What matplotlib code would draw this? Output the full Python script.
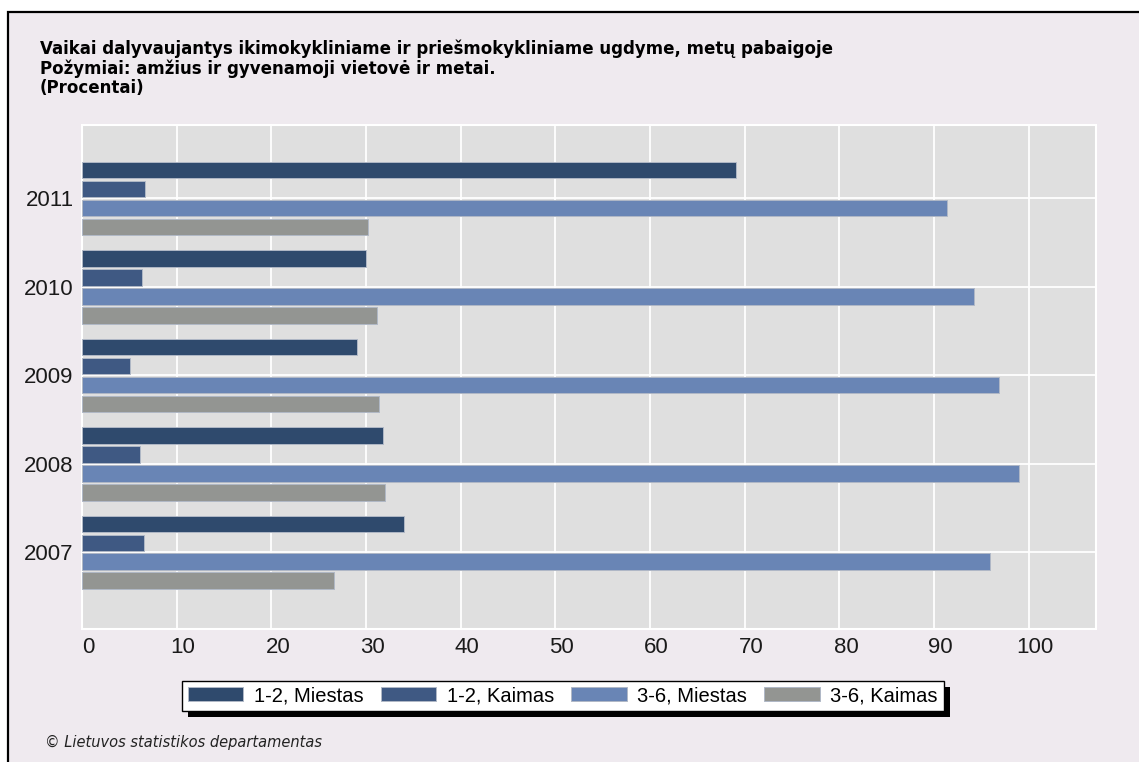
import numpy as np
import matplotlib
matplotlib.use("Agg")
import matplotlib.pyplot as plt
from matplotlib.patches import Rectangle
from matplotlib.transforms import ScaledTranslation

years = ['2007', '2008', '2009', '2010', '2011']
miestas_12 = [34.0, 31.8, 29.0, 30.0, 69.1]
kaimas_12 = [6.5, 6.1, 5.1, 6.3, 6.7]
miestas_36 = [95.9, 99.0, 96.9, 94.2, 91.4]
kaimas_36 = [26.6, 32.0, 31.4, 31.2, 30.2]
series_names = ['1-2, Miestas', '1-2, Kaimas', '3-6, Miestas', '3-6, Kaimas']
colors = ['#2f4a6d', '#3f5983', '#6985b5', '#939592']
xticks = [0, 10, 20, 30, 40, 50, 60, 70, 80, 90, 100]

W, H = 1139, 762
fig = plt.figure(figsize=(W / 100, H / 100), dpi=100)
fig.patch.set_facecolor('white')

# grey panel with black frame (cut at right/bottom)
frame = Rectangle((7.5 / W, -0.05), 1.1, 1 - 12 / H + 0.05, transform=fig.transFigure,
                  facecolor='#efeaef', edgecolor='black', lw=1.6, zorder=-10)
fig.add_artist(frame)

ax = fig.add_axes([82 / W, 1 - 629 / H, (1096 - 82) / W, (629 - 125) / H])
ax.set_facecolor('#dfdfdf')

y = np.arange(len(years))
step = 0.2147
h = 0.1876
all_series = [miestas_12, kaimas_12, miestas_36, kaimas_36]
handles = []
for i, vals in enumerate(all_series):
    b = ax.barh(y + (1.5 - i) * step, vals, height=h, color=colors[i],
                edgecolor='#b0b8c6', linewidth=0.7, zorder=3)
    handles.append(b)

ax.set_xlim(0, 107.1)
ax.set_ylim(-0.867, 4.83)
ax.set_xticks(xticks)
ax.set_yticks(y)
ax.set_yticklabels(years)
ax.set_axisbelow(True)
ax.grid(color='white', lw=1.3)
for s in ax.spines.values():
    s.set_color('white')
    s.set_linewidth(1.5)

tickfont = ['Liberation Sans Narrow', 'Liberation Sans', 'DejaVu Sans']
ax.tick_params(length=0, pad=6, labelsize=16, labelcolor='#1a1a1a')
for lbl in ax.get_xticklabels() + ax.get_yticklabels():
    lbl.set_family(tickfont)
for lbl in ax.get_xticklabels():
    lbl.set_transform(lbl.get_transform() + ScaledTranslation(6.5 / 100, 0, fig.dpi_scale_trans))

# title lines
title_lines = ['Vaikai dalyvaujantys ikimokykliniame ir priešmokykliniame ugdyme, metų pabaigoje',
               'Požymiai: amžius ir gyvenamoji vietovė ir metai.',
               '(Procentai)']
for txt, base in zip(title_lines, [54, 73.5, 93]):
    fig.text(40 / W, 1 - base / H, txt, fontsize=12, fontweight='bold',
             family='DejaVu Sans', va='baseline', ha='left', color='black')

fig.text(45 / W, 1 - 742 / H, '© Lietuvos statistikos departamentas', fontsize=10.5,
         style='italic', family='DejaVu Sans', va='center', ha='left', color='#222222')

leg = fig.legend(handles, series_names, loc='center', bbox_to_anchor=(563 / W, 1 - 695.7 / H),
                 ncol=4, frameon=True, fancybox=False, edgecolor='black', facecolor='white',
                 framealpha=1, prop={'family': ['Liberation Sans', 'DejaVu Sans'], 'size': 14.5},
                 handlelength=2.75, handleheight=0.7, handletextpad=0.53, columnspacing=0.85,
                 borderpad=0.28, borderaxespad=0)
leg.get_frame().set_linewidth(1.0)
leg.set_zorder(6)

fig.canvas.draw()
bb = leg.get_window_extent()
shadow = Rectangle((bb.x0 + 6, bb.y0 - 6), bb.width, bb.height, transform=None,
                   facecolor='black', edgecolor='none', zorder=5)
fig.add_artist(shadow)

fig.savefig('out.png', dpi=100, facecolor=fig.get_facecolor())
